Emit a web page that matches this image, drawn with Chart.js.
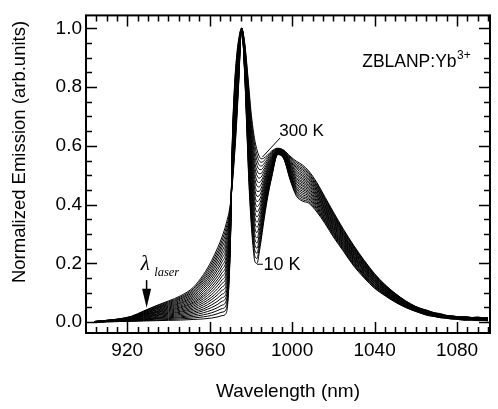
<!DOCTYPE html>
<html>
<head>
<meta charset="utf-8">
<script src="https://cdn.jsdelivr.net/npm/chart.js@4.4.1/dist/chart.umd.min.js"></script>
<style>
  html, body { margin: 0; padding: 0; background: #fff; }
  #wrap { width: 498px; height: 409px; }
</style>
</head>
<body>
<div id="wrap"><canvas id="emission" width="498" height="409"></canvas></div>
<script>
// wavelength grid (nm), shared by every spectrum
const wavelengths = [904, 910, 916, 922, 928, 934, 940, 946, 952, 957,
  961, 964, 966, 968, 970, 971, 972, 973, 974, 975.5,
  977, 978, 979, 980, 981, 982, 983, 984, 985, 986,
  988, 990, 993, 996, 999, 1002, 1005, 1008, 1012, 1016,
  1020, 1025, 1030, 1035, 1040, 1045, 1050, 1055, 1060, 1066,
  1072, 1078, 1084, 1090, 1095];

const temperatures = ["10 K", "22 K", "35 K", "48 K", "60 K", "72 K", "85 K",
  "98 K", "110 K", "122 K", "135 K", "148 K", "160 K", "175 K", "190 K",
  "205 K", "220 K", "235 K", "250 K", "262 K", "275 K", "288 K", "300 K"];

// normalized emission, one array per temperature
const t10 = [0.000, 0.001, 0.002, 0.003, 0.004, 0.005, 0.006, 0.007, 0.009, 0.011,
  0.014, 0.018, 0.022, 0.030, 0.250, 0.620, 0.800, 0.900, 0.960, 1.000,
  0.840, 0.660, 0.480, 0.350, 0.260, 0.205, 0.200, 0.235, 0.280, 0.330,
  0.420, 0.490, 0.570, 0.555, 0.485, 0.430, 0.412, 0.405, 0.375, 0.335,
  0.290, 0.240, 0.190, 0.150, 0.115, 0.090, 0.068, 0.050, 0.036, 0.024,
  0.015, 0.012, 0.006, 0.008, 0.004];
const t22 = [0.000, 0.001, 0.002, 0.003, 0.005, 0.007, 0.009, 0.011, 0.014, 0.018,
  0.023, 0.029, 0.034, 0.044, 0.257, 0.613, 0.789, 0.890, 0.952, 1.000,
  0.845, 0.670, 0.494, 0.367, 0.278, 0.223, 0.217, 0.250, 0.292, 0.340,
  0.426, 0.494, 0.571, 0.556, 0.488, 0.435, 0.417, 0.410, 0.379, 0.339,
  0.294, 0.243, 0.193, 0.153, 0.117, 0.092, 0.069, 0.051, 0.037, 0.022,
  0.018, 0.010, 0.010, 0.005, 0.007];
const t35 = [0.000, 0.002, 0.003, 0.004, 0.007, 0.010, 0.012, 0.015, 0.019, 0.025,
  0.032, 0.040, 0.046, 0.058, 0.264, 0.606, 0.778, 0.879, 0.945, 1.000,
  0.850, 0.680, 0.509, 0.384, 0.296, 0.242, 0.235, 0.265, 0.305, 0.351,
  0.433, 0.498, 0.572, 0.558, 0.492, 0.441, 0.423, 0.415, 0.384, 0.343,
  0.298, 0.247, 0.196, 0.156, 0.120, 0.094, 0.071, 0.052, 0.038, 0.027,
  0.016, 0.013, 0.009, 0.006, 0.008];
const t48 = [0.000, 0.002, 0.003, 0.005, 0.008, 0.012, 0.015, 0.018, 0.024, 0.032,
  0.041, 0.050, 0.058, 0.072, 0.270, 0.600, 0.767, 0.868, 0.938, 1.000,
  0.855, 0.690, 0.523, 0.400, 0.314, 0.261, 0.252, 0.280, 0.318, 0.361,
  0.440, 0.502, 0.573, 0.559, 0.496, 0.446, 0.428, 0.420, 0.388, 0.347,
  0.302, 0.250, 0.199, 0.158, 0.122, 0.095, 0.072, 0.053, 0.039, 0.028,
  0.015, 0.014, 0.008, 0.009, 0.006];
const t60 = [0.000, 0.002, 0.004, 0.006, 0.010, 0.014, 0.018, 0.022, 0.029, 0.039,
  0.050, 0.061, 0.071, 0.086, 0.277, 0.593, 0.756, 0.858, 0.931, 1.000,
  0.860, 0.700, 0.538, 0.417, 0.333, 0.280, 0.270, 0.295, 0.330, 0.371,
  0.447, 0.507, 0.574, 0.561, 0.500, 0.452, 0.434, 0.425, 0.393, 0.351,
  0.306, 0.254, 0.203, 0.161, 0.124, 0.097, 0.074, 0.054, 0.039, 0.025,
  0.019, 0.011, 0.012, 0.007, 0.009];
const t72 = [0.000, 0.002, 0.004, 0.007, 0.011, 0.016, 0.021, 0.026, 0.034, 0.045,
  0.059, 0.072, 0.083, 0.099, 0.284, 0.586, 0.745, 0.847, 0.923, 1.000,
  0.865, 0.710, 0.552, 0.434, 0.351, 0.298, 0.287, 0.310, 0.342, 0.381,
  0.453, 0.511, 0.575, 0.562, 0.503, 0.457, 0.440, 0.430, 0.397, 0.355,
  0.309, 0.257, 0.206, 0.163, 0.126, 0.098, 0.075, 0.055, 0.040, 0.026,
  0.021, 0.012, 0.013, 0.008, 0.010];
const t85 = [0.001, 0.002, 0.005, 0.008, 0.013, 0.019, 0.024, 0.030, 0.039, 0.052,
  0.068, 0.083, 0.095, 0.113, 0.291, 0.579, 0.735, 0.837, 0.916, 1.000,
  0.870, 0.720, 0.567, 0.451, 0.369, 0.317, 0.305, 0.325, 0.355, 0.392,
  0.460, 0.515, 0.576, 0.563, 0.507, 0.462, 0.446, 0.435, 0.402, 0.360,
  0.313, 0.261, 0.209, 0.166, 0.129, 0.100, 0.076, 0.056, 0.041, 0.029,
  0.018, 0.015, 0.008, 0.011, 0.006];
const t98 = [0.001, 0.003, 0.005, 0.009, 0.015, 0.022, 0.027, 0.034, 0.044, 0.059,
  0.077, 0.094, 0.108, 0.127, 0.298, 0.572, 0.724, 0.827, 0.909, 1.000,
  0.875, 0.730, 0.582, 0.468, 0.388, 0.336, 0.323, 0.340, 0.368, 0.403,
  0.467, 0.520, 0.577, 0.565, 0.511, 0.468, 0.452, 0.440, 0.407, 0.364,
  0.317, 0.264, 0.213, 0.169, 0.131, 0.102, 0.078, 0.057, 0.042, 0.030,
  0.017, 0.016, 0.009, 0.012, 0.007];
const t110 = [0.001, 0.003, 0.005, 0.009, 0.016, 0.024, 0.030, 0.037, 0.049, 0.066,
  0.085, 0.104, 0.120, 0.141, 0.305, 0.565, 0.713, 0.816, 0.902, 1.000,
  0.880, 0.740, 0.597, 0.485, 0.406, 0.354, 0.340, 0.355, 0.381, 0.413,
  0.474, 0.524, 0.578, 0.566, 0.514, 0.473, 0.457, 0.445, 0.411, 0.368,
  0.321, 0.267, 0.216, 0.172, 0.133, 0.104, 0.079, 0.058, 0.042, 0.028,
  0.021, 0.013, 0.012, 0.008, 0.011];
const t122 = [0.001, 0.003, 0.006, 0.010, 0.018, 0.026, 0.033, 0.041, 0.054, 0.073,
  0.094, 0.115, 0.132, 0.155, 0.312, 0.559, 0.702, 0.806, 0.895, 1.000,
  0.885, 0.750, 0.612, 0.502, 0.424, 0.373, 0.358, 0.370, 0.394, 0.423,
  0.481, 0.528, 0.579, 0.568, 0.518, 0.479, 0.463, 0.450, 0.416, 0.372,
  0.325, 0.271, 0.219, 0.175, 0.136, 0.106, 0.081, 0.060, 0.043, 0.027,
  0.023, 0.012, 0.014, 0.009, 0.011];
const t135 = [0.001, 0.003, 0.006, 0.011, 0.020, 0.028, 0.036, 0.045, 0.059, 0.080,
  0.103, 0.126, 0.144, 0.169, 0.318, 0.552, 0.691, 0.795, 0.887, 1.000,
  0.890, 0.760, 0.626, 0.518, 0.442, 0.392, 0.375, 0.385, 0.406, 0.433,
  0.487, 0.532, 0.580, 0.569, 0.521, 0.484, 0.468, 0.455, 0.421, 0.376,
  0.329, 0.274, 0.222, 0.177, 0.138, 0.107, 0.082, 0.061, 0.044, 0.031,
  0.020, 0.016, 0.010, 0.013, 0.008];
const t148 = [0.001, 0.004, 0.007, 0.012, 0.022, 0.031, 0.039, 0.049, 0.064, 0.087,
  0.112, 0.137, 0.156, 0.183, 0.325, 0.545, 0.680, 0.785, 0.880, 1.000,
  0.895, 0.770, 0.640, 0.535, 0.460, 0.410, 0.393, 0.400, 0.418, 0.444,
  0.494, 0.536, 0.581, 0.570, 0.525, 0.489, 0.474, 0.460, 0.426, 0.380,
  0.333, 0.278, 0.225, 0.180, 0.140, 0.109, 0.083, 0.062, 0.045, 0.033,
  0.019, 0.017, 0.010, 0.012, 0.009];
const t160 = [0.001, 0.004, 0.007, 0.012, 0.023, 0.033, 0.042, 0.052, 0.068, 0.093,
  0.121, 0.147, 0.168, 0.196, 0.332, 0.538, 0.669, 0.775, 0.873, 1.000,
  0.900, 0.780, 0.654, 0.552, 0.478, 0.428, 0.410, 0.415, 0.430, 0.454,
  0.501, 0.540, 0.582, 0.571, 0.529, 0.494, 0.479, 0.465, 0.430, 0.384,
  0.336, 0.281, 0.228, 0.183, 0.142, 0.111, 0.084, 0.063, 0.045, 0.030,
  0.023, 0.014, 0.013, 0.009, 0.012];
const t175 = [0.001, 0.004, 0.008, 0.013, 0.025, 0.035, 0.045, 0.056, 0.073, 0.100,
  0.130, 0.158, 0.180, 0.210, 0.339, 0.532, 0.658, 0.765, 0.866, 1.000,
  0.905, 0.790, 0.669, 0.569, 0.496, 0.447, 0.428, 0.430, 0.443, 0.464,
  0.508, 0.545, 0.583, 0.573, 0.533, 0.500, 0.485, 0.470, 0.435, 0.388,
  0.340, 0.285, 0.232, 0.186, 0.145, 0.113, 0.086, 0.064, 0.046, 0.030,
  0.025, 0.014, 0.015, 0.010, 0.013];
const t190 = [0.001, 0.004, 0.008, 0.014, 0.026, 0.037, 0.048, 0.060, 0.078, 0.107,
  0.139, 0.169, 0.192, 0.224, 0.345, 0.525, 0.647, 0.754, 0.858, 1.000,
  0.910, 0.800, 0.684, 0.585, 0.514, 0.466, 0.445, 0.445, 0.456, 0.474,
  0.514, 0.549, 0.584, 0.574, 0.536, 0.505, 0.490, 0.475, 0.439, 0.392,
  0.344, 0.288, 0.235, 0.188, 0.147, 0.114, 0.087, 0.065, 0.047, 0.033,
  0.022, 0.018, 0.011, 0.014, 0.010];
const t205 = [0.001, 0.005, 0.009, 0.015, 0.028, 0.040, 0.051, 0.064, 0.083, 0.114,
  0.148, 0.180, 0.205, 0.238, 0.352, 0.518, 0.637, 0.744, 0.851, 1.000,
  0.915, 0.810, 0.699, 0.602, 0.533, 0.485, 0.463, 0.460, 0.469, 0.485,
  0.521, 0.553, 0.585, 0.576, 0.540, 0.511, 0.496, 0.480, 0.444, 0.396,
  0.348, 0.292, 0.238, 0.191, 0.149, 0.116, 0.089, 0.066, 0.048, 0.036,
  0.021, 0.019, 0.012, 0.014, 0.011];
const t220 = [0.001, 0.005, 0.009, 0.015, 0.029, 0.042, 0.054, 0.067, 0.088, 0.121,
  0.157, 0.190, 0.217, 0.252, 0.359, 0.511, 0.626, 0.733, 0.844, 1.000,
  0.920, 0.820, 0.713, 0.619, 0.551, 0.503, 0.480, 0.475, 0.481, 0.495,
  0.528, 0.557, 0.586, 0.577, 0.543, 0.516, 0.501, 0.485, 0.448, 0.400,
  0.352, 0.295, 0.241, 0.194, 0.151, 0.118, 0.090, 0.067, 0.048, 0.034,
  0.025, 0.016, 0.015, 0.011, 0.013];
const t235 = [0.002, 0.005, 0.009, 0.016, 0.031, 0.045, 0.057, 0.071, 0.093, 0.128,
  0.166, 0.201, 0.229, 0.266, 0.366, 0.504, 0.615, 0.723, 0.837, 1.000,
  0.925, 0.830, 0.728, 0.636, 0.569, 0.522, 0.498, 0.490, 0.494, 0.506,
  0.535, 0.561, 0.587, 0.579, 0.547, 0.522, 0.507, 0.490, 0.453, 0.405,
  0.356, 0.298, 0.244, 0.197, 0.154, 0.120, 0.092, 0.068, 0.049, 0.033,
  0.027, 0.015, 0.017, 0.012, 0.014];
const t250 = [0.002, 0.005, 0.009, 0.017, 0.032, 0.047, 0.060, 0.075, 0.098, 0.135,
  0.174, 0.212, 0.241, 0.280, 0.373, 0.497, 0.604, 0.712, 0.829, 1.000,
  0.930, 0.840, 0.742, 0.653, 0.587, 0.540, 0.515, 0.505, 0.506, 0.516,
  0.541, 0.565, 0.588, 0.580, 0.550, 0.527, 0.513, 0.495, 0.457, 0.409,
  0.360, 0.301, 0.247, 0.199, 0.156, 0.121, 0.093, 0.069, 0.050, 0.037,
  0.024, 0.020, 0.013, 0.016, 0.011];
const t262 = [0.002, 0.006, 0.010, 0.018, 0.034, 0.049, 0.063, 0.079, 0.103, 0.142,
  0.183, 0.223, 0.254, 0.294, 0.380, 0.491, 0.593, 0.702, 0.822, 1.000,
  0.935, 0.850, 0.757, 0.670, 0.606, 0.559, 0.533, 0.520, 0.519, 0.526,
  0.548, 0.570, 0.589, 0.581, 0.554, 0.532, 0.519, 0.500, 0.462, 0.413,
  0.364, 0.305, 0.251, 0.202, 0.158, 0.123, 0.094, 0.070, 0.051, 0.039,
  0.023, 0.021, 0.014, 0.017, 0.012];
const t275 = [0.002, 0.006, 0.010, 0.018, 0.035, 0.051, 0.066, 0.082, 0.108, 0.148,
  0.192, 0.233, 0.266, 0.307, 0.386, 0.484, 0.582, 0.691, 0.815, 1.000,
  0.940, 0.860, 0.771, 0.686, 0.624, 0.578, 0.550, 0.535, 0.531, 0.536,
  0.555, 0.574, 0.590, 0.582, 0.558, 0.537, 0.524, 0.505, 0.466, 0.417,
  0.367, 0.308, 0.254, 0.205, 0.160, 0.125, 0.095, 0.071, 0.052, 0.035,
  0.027, 0.017, 0.018, 0.012, 0.015];
const t288 = [0.002, 0.006, 0.011, 0.019, 0.037, 0.054, 0.069, 0.086, 0.113, 0.155,
  0.201, 0.244, 0.278, 0.321, 0.393, 0.477, 0.571, 0.681, 0.808, 1.000,
  0.945, 0.870, 0.786, 0.703, 0.642, 0.597, 0.568, 0.550, 0.544, 0.547,
  0.562, 0.578, 0.591, 0.584, 0.562, 0.543, 0.530, 0.510, 0.471, 0.421,
  0.371, 0.312, 0.257, 0.208, 0.163, 0.127, 0.097, 0.072, 0.053, 0.036,
  0.029, 0.018, 0.019, 0.013, 0.016];
const t300 = [0.002, 0.006, 0.011, 0.020, 0.038, 0.056, 0.072, 0.090, 0.118, 0.162,
  0.210, 0.255, 0.290, 0.335, 0.400, 0.470, 0.560, 0.670, 0.800, 1.000,
  0.950, 0.880, 0.800, 0.720, 0.660, 0.615, 0.585, 0.565, 0.556, 0.557,
  0.568, 0.582, 0.592, 0.585, 0.565, 0.548, 0.535, 0.515, 0.475, 0.425,
  0.375, 0.315, 0.260, 0.210, 0.165, 0.128, 0.098, 0.073, 0.053, 0.039,
  0.026, 0.021, 0.014, 0.017, 0.012];

const spectra = [t10, t22, t35, t48, t60, t72, t85, t98, t110, t122, t135, t148,
  t160, t175, t190, t205, t220, t235, t250, t262, t275, t288, t300];

const xTickValues = [920, 960, 1000, 1040, 1080];
const yTickValues = [0.0, 0.2, 0.4, 0.6, 0.8, 1.0];

const SANS = '"Liberation Sans", Arial, Helvetica, sans-serif';
const SERIF = '"Liberation Serif", "Times New Roman", serif';

const datasets = spectra.map((vals, i) => ({
  label: temperatures[i],
  data: vals.map((v, j) => ({ x: wavelengths[j], y: v })),
  borderColor: "#000",
  borderWidth: 1,
  pointRadius: 0,
  fill: false,
  cubicInterpolationMode: "monotone",
}));

// box around the plot, ticks pointing inwards on all four sides
const frameTicks = {
  id: "frameTicks",
  afterDatasetsDraw(chart) {
    const { ctx, chartArea: a, scales: { x, y } } = chart;
    ctx.save();
    ctx.strokeStyle = "#000";
    ctx.lineWidth = 1.5;
    ctx.beginPath();
    for (let v = 905; v <= 1095; v += 5) {
      const px = Math.round(x.getPixelForValue(v)) + 0.5;
      const len = v % 40 === 0 ? 11 : 6;
      ctx.moveTo(px, a.bottom);
      ctx.lineTo(px, a.bottom - len);
      ctx.moveTo(px, a.top);
      ctx.lineTo(px, a.top + len);
    }
    for (let i = 0; i <= 20; i++) {
      const py = Math.round(y.getPixelForValue(i * 0.05)) + 0.5;
      const len = i % 4 === 0 ? 11 : 6;
      ctx.moveTo(a.left, py);
      ctx.lineTo(a.left + len, py);
      ctx.moveTo(a.right, py);
      ctx.lineTo(a.right - len, py);
    }
    ctx.stroke();
    ctx.lineWidth = 2;
    ctx.strokeRect(a.left, a.top, a.right - a.left, a.bottom - a.top);
    ctx.restore();
  },
};

// y title and the text marks inside the plot
const annotate = {
  id: "annotate",
  afterDraw(chart) {
    const { ctx, scales: { x, y } } = chart;
    const X = (v) => x.getPixelForValue(v);
    const Y = (v) => y.getPixelForValue(v);
    ctx.save();
    ctx.fillStyle = "#000";
    ctx.strokeStyle = "#000";

    // y axis title
    ctx.save();
    ctx.translate(19.5, 152);
    ctx.rotate(-Math.PI / 2);
    ctx.font = "18.5px " + SANS;
    ctx.textAlign = "center";
    ctx.textBaseline = "middle";
    ctx.fillText("Normalized Emission (arb.units)", 0, 0);
    ctx.restore();

    ctx.textAlign = "left";
    ctx.textBaseline = "alphabetic";

    // sample name
    ctx.font = "17.5px " + SANS;
    const nx = X(1034), ny = Y(0.869);
    ctx.fillText("ZBLANP:Yb", nx, ny);
    const nw = ctx.measureText("ZBLANP:Yb").width;
    ctx.font = "12px " + SANS;
    ctx.fillText("3+", nx + nw + 0.5, ny - 8);

    // 300 K label + leader
    ctx.font = "17px " + SANS;
    ctx.fillText("300 K", X(993.8), Y(0.632));
    ctx.lineWidth = 1;
    ctx.beginPath();
    ctx.moveTo(X(994.2), Y(0.627));
    ctx.lineTo(X(985.6), Y(0.562));
    ctx.stroke();

    // 10 K label + leader
    ctx.font = "18px " + SANS;
    ctx.fillText("10 K", X(986.1), Y(0.177));
    ctx.beginPath();
    ctx.moveTo(X(983), Y(0.197));
    ctx.lineTo(X(985.8), Y(0.197));
    ctx.stroke();

    // laser wavelength arrow
    const ax = X(929.4), top = Y(0.143), tip = Y(0.049);
    ctx.lineWidth = 1.5;
    ctx.beginPath();
    ctx.moveTo(ax, top);
    ctx.lineTo(ax, tip - 8);
    ctx.stroke();
    ctx.beginPath();
    ctx.moveTo(ax, tip);
    ctx.lineTo(ax - 4.5, tip - 19);
    ctx.lineTo(ax + 4.5, tip - 19);
    ctx.closePath();
    ctx.fill();
    ctx.font = "italic 21px " + SERIF;
    ctx.fillText("\u03bb", X(926.6), Y(0.177));
    ctx.font = "italic 12.5px " + SERIF;
    ctx.fillText("laser", X(933.1), Y(0.157));

    ctx.restore();
  },
};

new Chart(document.getElementById("emission"), {
  type: "line",
  data: { datasets },
  options: {
    responsive: false,
    animation: false,
    devicePixelRatio: 1,
    layout: { padding: { top: 5, right: 8, left: 0, bottom: 0 } },
    plugins: {
      legend: { display: false },
      tooltip: { enabled: false },
    },
    scales: {
      x: {
        type: "linear",
        min: 900,
        max: 1096,
        grid: { display: false, drawTicks: false },
        border: { display: false },
        afterFit: (s) => { s.height = 76; },
        afterBuildTicks: (s) => { s.ticks = xTickValues.map((v) => ({ value: v })); },
        ticks: {
          color: "#000",
          font: { family: SANS, size: 19 },
          padding: 6,
          maxRotation: 0,
          autoSkip: false,
          callback: (v) => String(v),
        },
        title: {
          display: true,
          text: "Wavelength (nm)",
          color: "#000",
          font: { family: SANS, size: 19 },
          padding: { top: 0, bottom: 6 },
        },
      },
      y: {
        min: -0.037,
        max: 1.044,
        grid: { display: false, drawTicks: false },
        border: { display: false },
        afterFit: (s) => { s.width = 86; },
        afterBuildTicks: (s) => { s.ticks = yTickValues.map((v) => ({ value: v })); },
        ticks: {
          color: "#000",
          font: { family: SANS, size: 19 },
          padding: 4,
          callback: (v) => Number(v).toFixed(1),
        },
      },
    },
  },
  plugins: [frameTicks, annotate],
});
</script>
</body>
</html>
